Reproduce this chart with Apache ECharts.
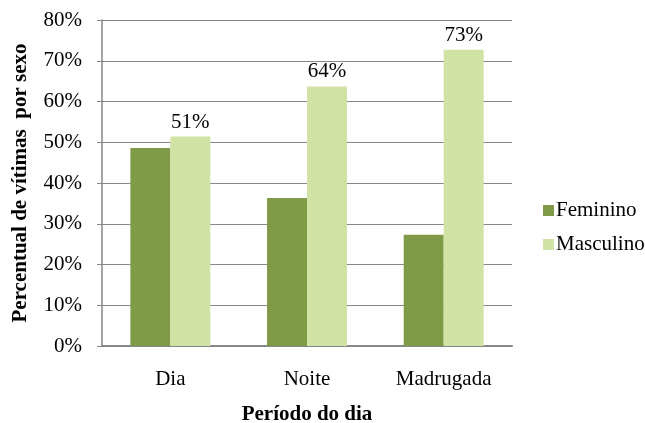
<!DOCTYPE html>
<html>
<head>
<meta charset="utf-8">
<script src="https://cdn.jsdelivr.net/npm/echarts@6/dist/echarts.min.js"></script>
<style>
  html, body { margin: 0; padding: 0; background: #fff; overflow: hidden; }
  #chart { width: 645px; height: 423px; }
</style>
</head>
<body>
<div id="chart"></div>
<script>
// Share of victims by sex for each period of the day (percent)
const periods = ['Dia', 'Noite', 'Madrugada'];
const feminino = [48.6, 36.3, 27.3];
const masculino = [51.4, 63.7, 72.7];
const yTicks = [0, 10, 20, 30, 40, 50, 60, 70, 80];

const serif = '"Liberation Serif", "Times New Roman", serif';
const gray = '#878787';
const fs = 21;

const chart = echarts.init(document.getElementById('chart'));
chart.setOption({
  animation: false,
  backgroundColor: '#fff',
  textStyle: { fontFamily: serif },
  grid: {
    left: 102, right: 133, top: 20, bottom: 77,
    containLabel: false,
    outerBoundsMode: 'none'
  },
  legend: {
    orient: 'vertical',
    left: 538,
    top: 195,
    itemWidth: 11,
    itemHeight: 11,
    itemGap: 13,
    icon: 'rect',
    textStyle: { fontFamily: serif, fontSize: fs, color: '#000', padding: [0, 0, 0, -3] },
    data: ['Feminino', 'Masculino']
  },
  xAxis: {
    type: 'category',
    data: periods,
    name: 'Período do dia',
    nameLocation: 'middle',
    nameGap: 58,
    nameTextStyle: { fontFamily: serif, fontSize: fs, fontWeight: 'bold', color: '#000' },
    axisLine: { lineStyle: { color: gray, width: 2 } },
    axisTick: { show: false },
    axisLabel: { fontFamily: serif, fontSize: fs, color: '#000', margin: 23 }
  },
  yAxis: {
    type: 'value',
    min: yTicks[0],
    max: yTicks[yTicks.length - 1],
    interval: 10,
    name: 'Percentual de vítimas  por sexo',
    nameLocation: 'middle',
    nameRotate: 90,
    nameGap: 71,
    nameTextStyle: { fontFamily: serif, fontSize: fs, fontWeight: 'bold', color: '#000' },
    axisLine: { show: true, lineStyle: { color: gray, width: 1.5 } },
    axisTick: { show: true, length: 5, lineStyle: { color: gray } },
    splitLine: { lineStyle: { color: gray, width: 1 } },
    axisLabel: {
      fontFamily: serif, fontSize: fs, color: '#000', margin: 20,
      formatter: v => v + '%'
    }
  },
  series: [
    {
      name: 'Feminino',
      type: 'bar',
      data: feminino,
      barGap: '0%',
      barCategoryGap: '41.5%',
      itemStyle: { color: '#809B47' }
    },
    {
      name: 'Masculino',
      type: 'bar',
      data: masculino,
      itemStyle: { color: '#D1E2A5' },
      label: {
        show: true,
        position: 'top',
        distance: 4,
        fontFamily: serif,
        fontSize: fs,
        color: '#000',
        formatter: p => Math.round(p.value) + '%'
      }
    }
  ]
});
</script>
</body>
</html>
